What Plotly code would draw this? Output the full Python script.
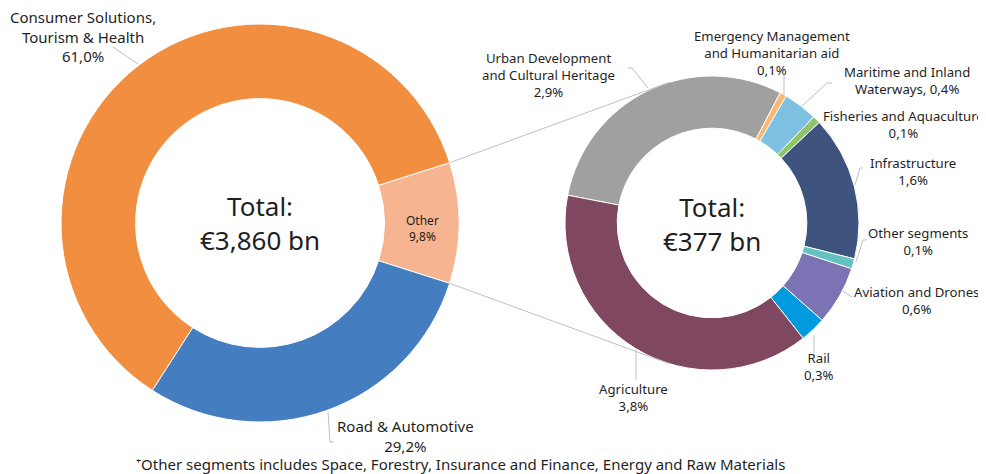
import math
import plotly.graph_objects as go

# ---------------- data ----------------
main_labels = ["Other", "Road & Automotive", "Consumer Solutions,<br>Tourism & Health"]
main_share_pct = [9.8, 29.2, 61.0]
main_colors = ["#F6B490", "#457EC0", "#F28E3F"]
main_total_text = "€3,860 bn"

sub_labels = ["Urban Development<br>and Cultural Heritage", "Emergency Management<br>and Humanitarian aid",
              "Maritime and Inland<br>Waterways", "Fisheries and Aquaculture", "Infrastructure",
              "Other segments", "Aviation and Drones", "Rail", "Agriculture"]
sub_values_bn = [111.8, 2.8, 14.1, 3.2, 60.0, 4.2, 24.4, 10.7, 145.8]
sub_share_pct = ["2,9%", "0,1%", "0,4%", "0,1%", "1,6%", "0,1%", "0,6%", "0,3%", "3,8%"]
sub_colors = ["#A0A09F", "#F9B970", "#7EC0E1", "#8DC56B", "#3E547F", "#63C1C0", "#7B73B4", "#009BDE", "#7F4760"]
sub_total_text = "€377 bn"

footnote = "⁺Other segments includes Space, Forestry, Insurance and Finance, Energy and Raw Materials"

# page body has an 8px margin: the figure is sized to fit the window and
# all positions below are given in window pixels and shifted by that margin
OFF = 8
W, H = 986 - OFF, 474 - OFF
FONT = "Noto Sans"
TXT = "#1f1f1f"
LINE = "#BFBFBF"


def px(x):
    return (x - OFF) / W


def py(y):
    return 1 - (y - OFF) / H


# donut geometry (window pixels)
L_CX, L_CY, L_R = 260, 223, 199
R_CX, R_CY, R_R = 712, 223, 147

fig = go.Figure()
fig.add_trace(go.Pie(
    values=main_share_pct, labels=main_labels, sort=False, direction="clockwise",
    rotation=90 - main_share_pct[0] / 100 * 360 / 2, hole=0.625,
    marker=dict(colors=main_colors, line=dict(color="white", width=1)),
    textinfo="none", hoverinfo="label+percent", showlegend=False,
    domain=dict(x=[px(L_CX - L_R), px(L_CX + L_R)], y=[py(L_CY + L_R), py(L_CY - L_R)]),
))
fig.add_trace(go.Pie(
    values=sub_values_bn, labels=sub_labels, sort=False, direction="clockwise",
    rotation=-79.1, hole=0.645,
    marker=dict(colors=sub_colors, line=dict(color="white", width=1)),
    textinfo="none", hoverinfo="label+value", showlegend=False,
    domain=dict(x=[px(R_CX - R_R), px(R_CX + R_R)], y=[py(R_CY + R_R), py(R_CY - R_R)]),
))

ann = []


def label(x, y, text, size=13):
    ann.append(dict(x=px(x), y=py(y), xref="paper", yref="paper", text=text, showarrow=False,
                    xanchor="center", yanchor="middle", align="center", borderpad=0,
                    font=dict(family=FONT, size=size, color=TXT)))


# center totals
label(L_CX, 223, "Total:<br>" + main_total_text, 26)
label(R_CX, 224, "Total:<br>" + sub_total_text, 26)

# main labels
label(83, 36.5, main_labels[2] + "<br>" + "61,0%", 15)
label(405, 436, main_labels[1] + "<br>" + "29,2%", 15)
label(422, 228, main_labels[0] + "<br>" + "9,8%", 12)

# sub labels
sub_pos = [(548, 75), (772, 53), (907, 80), (903, 124), (913, 171), (918, 241), (916, 300), (819, 366), (633, 397)]
for (x, y), lab, pct in zip(sub_pos, sub_labels, sub_share_pct):
    if lab.startswith("Maritime"):
        txt = lab + ", " + pct
    else:
        txt = lab + "<br>" + pct
    label(x, y, txt, 13.2)

# footnote
label(460, 464, footnote, 15)

shapes = []


def seg(pts, color=LINE, width=1):
    path = "M " + " L ".join(f"{px(x)},{py(y)}" for x, y in pts)
    shapes.append(dict(type="path", path=path, xref="paper", yref="paper",
                       line=dict(color=color, width=width)))


# connector lines from "Other" slice to right donut
half = main_share_pct[0] / 100 * math.pi
for s in (1, -1):
    x0 = L_CX + L_R * math.cos(half)
    y0 = L_CY - s * L_R * math.sin(half)
    a = math.radians(106.7)
    x1 = R_CX + R_R * math.cos(a)
    y1 = R_CY - s * R_R * math.sin(a)
    seg([(x0, y0), (x1, y1)])

# leader lines
seg([(113, 47), (138, 64)])
seg([(328, 412), (330, 442), (334, 442)])
seg([(628, 68), (632, 68), (648, 88)])
seg([(784, 75), (784, 95)])
seg([(832, 83), (827, 83), (802, 106)])
seg([(863, 168), (860, 168), (855, 185)])
seg([(867, 240), (863, 240), (856, 262)])
seg([(852, 297), (843, 291)])
seg([(814, 335), (814, 353)])
seg([(636, 350), (636, 380)])

fig.update_layout(
    width=W, height=H, margin=dict(l=0, r=0, t=0, b=0),
    paper_bgcolor="white", plot_bgcolor="white",
    annotations=ann, shapes=shapes,
    font=dict(family=FONT, color=TXT),
)
fig.write_html("out.html")
